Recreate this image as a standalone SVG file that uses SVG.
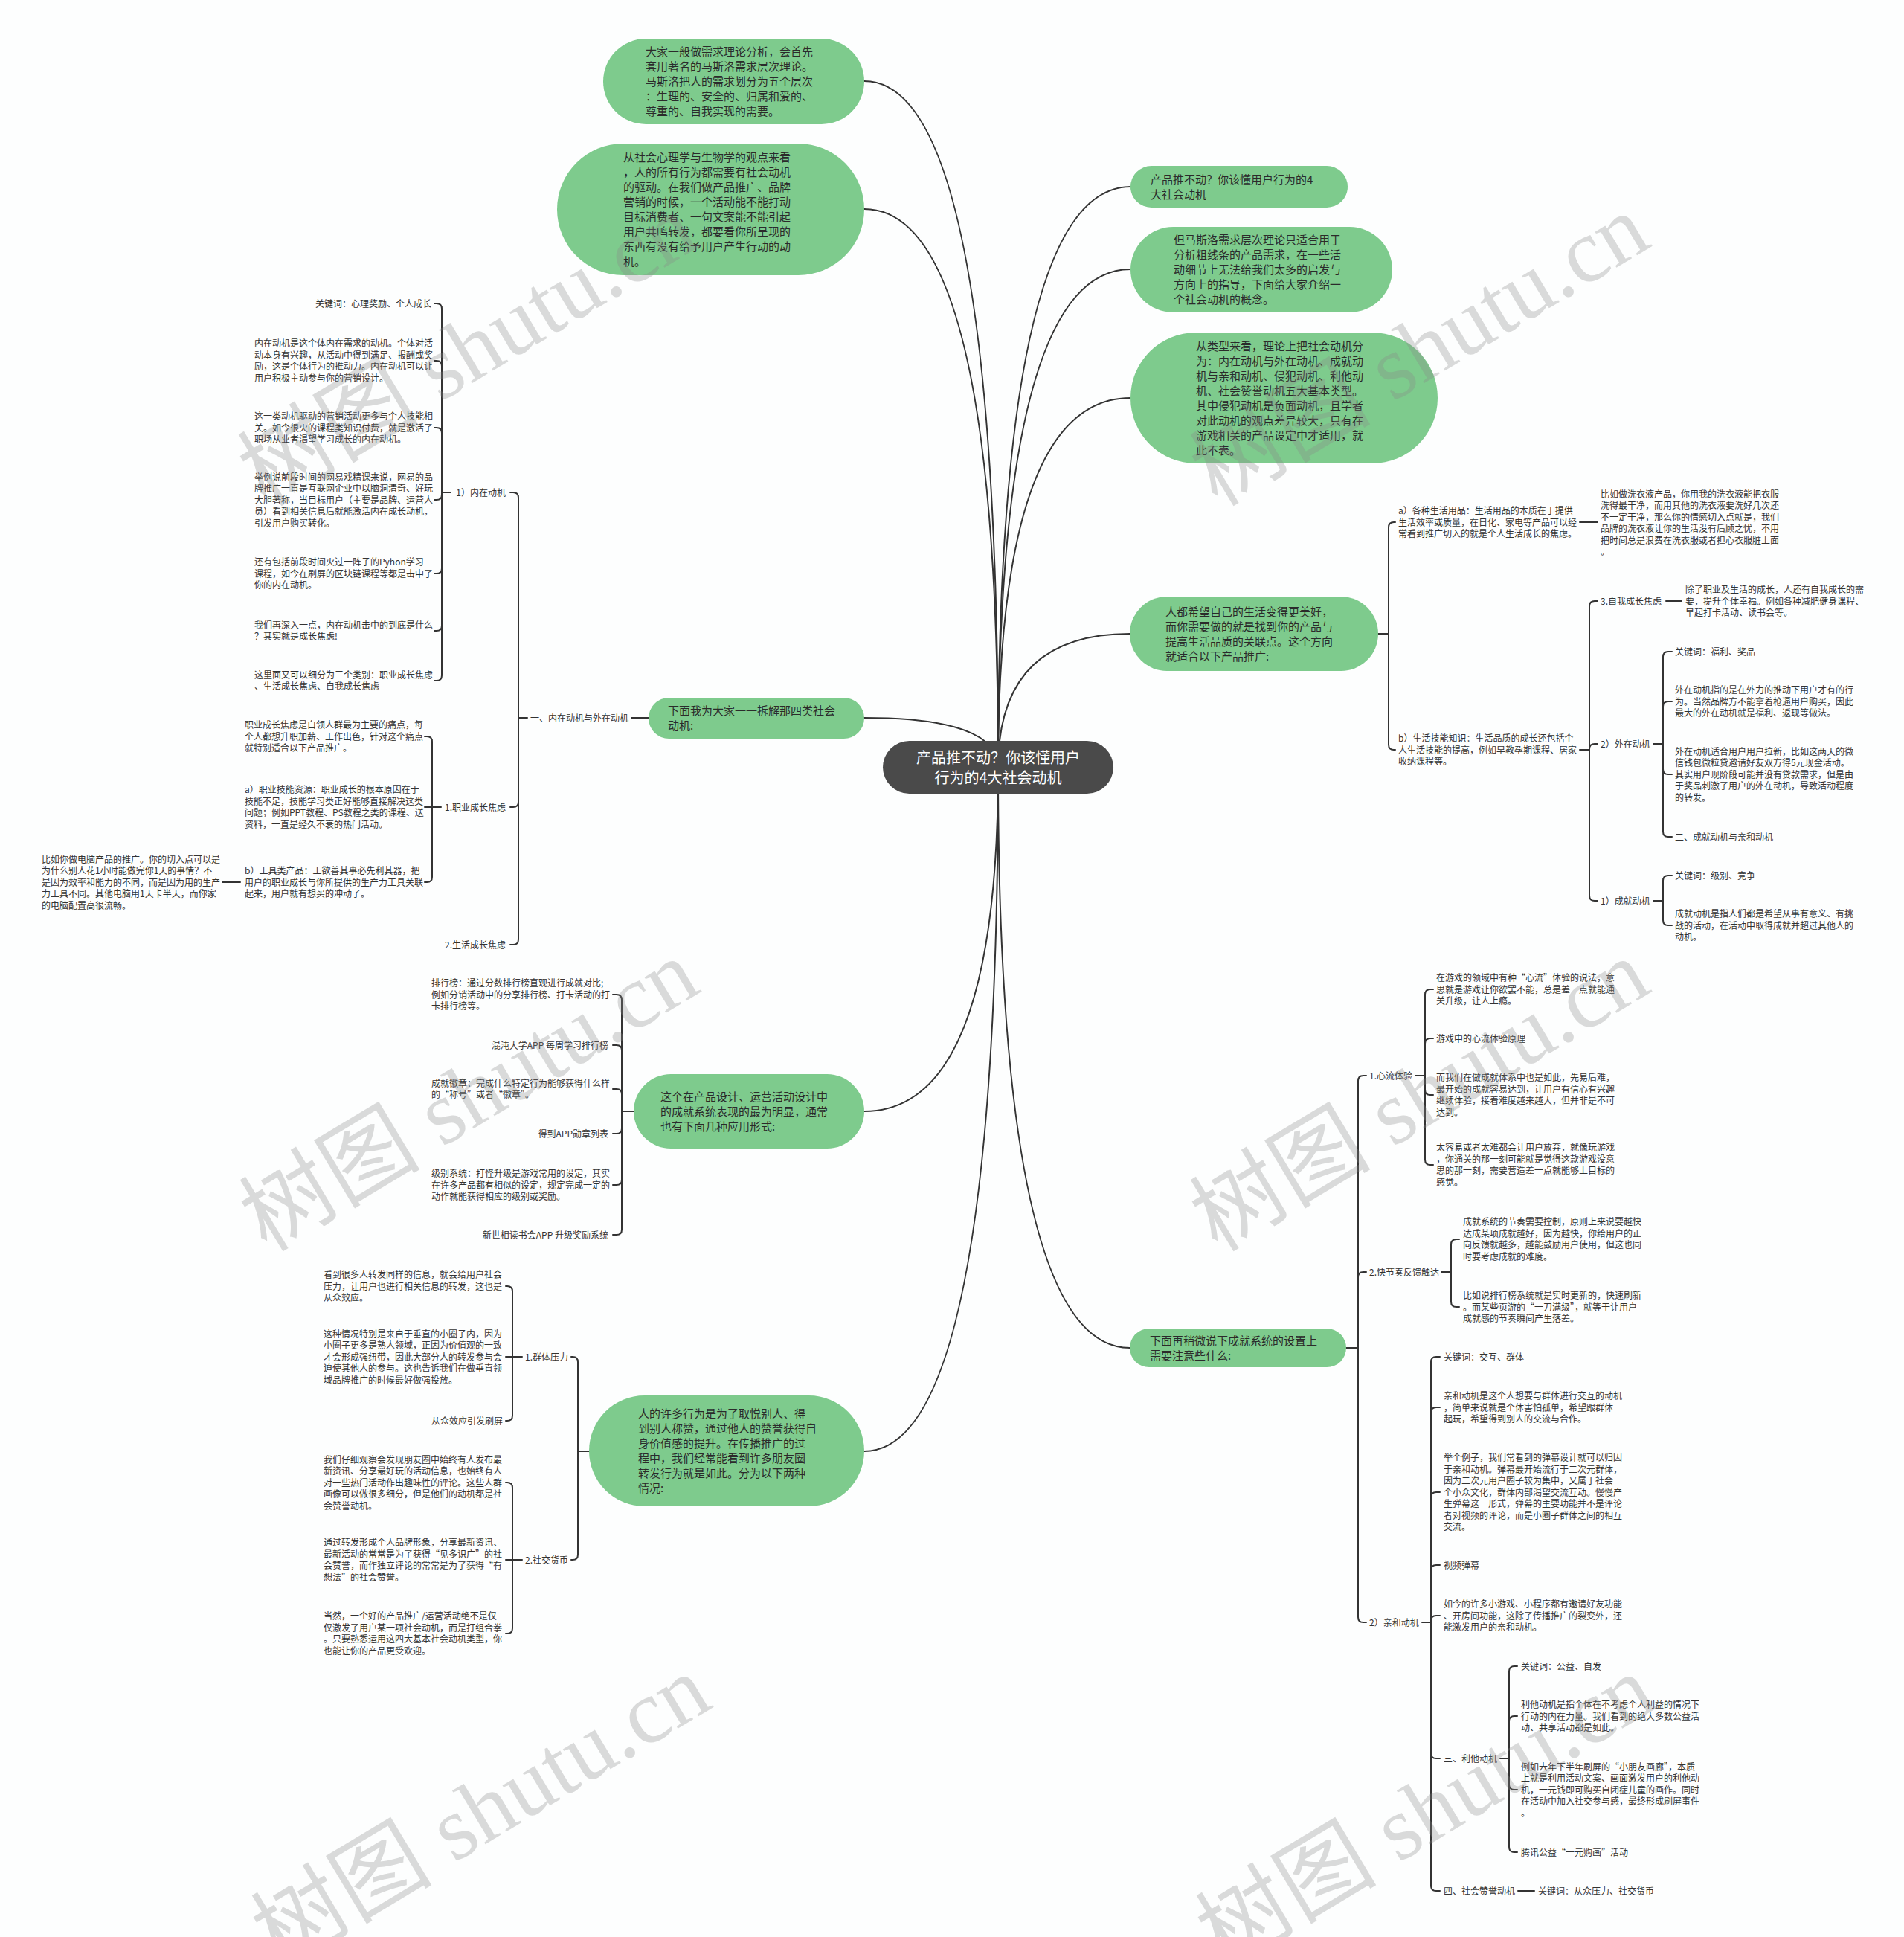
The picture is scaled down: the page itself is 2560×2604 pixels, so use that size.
<svg xmlns="http://www.w3.org/2000/svg" width="2560" height="2604" viewBox="0 0 2560 2604">
<style>
text{font-family:"Noto Sans CJK SC","Noto Sans",sans-serif;}
.t{font-size:12px;fill:#333;}
.e{font-size:12px;fill:#333;text-anchor:end;}
.g{font-size:15px;fill:#2b2b2b;}
.c{font-size:20px;fill:#fff;text-anchor:middle;}
.gn{fill:#7ECB8D;}
.ln{fill:none;stroke:#333;stroke-width:2;stroke-linecap:round;}
.wm{font-family:"Liberation Serif","Noto Sans CJK SC",serif;font-size:122px;fill:#888;opacity:0.3;text-anchor:middle;}
</style>
<rect width="2560" height="2604" fill="#fdfefe"/>
<g id="connectors" class="ln">
<path d="M1342,1032Q1342,109 1162,109"/>
<path d="M1342,1032Q1342,281 1162,281"/>
<path d="M1342,1032Q1342,965 1162,965"/>
<path d="M1342,1032Q1342,1494 1162,1494"/>
<path d="M1342,1032Q1342,1951 1162,1951"/>
<path d="M1342,1032Q1342,251 1520,251"/>
<path d="M1342,1032Q1342,362 1520,362"/>
<path d="M1342,1032Q1342,535 1520,535"/>
<path d="M1342,1032Q1342,852 1519,852"/>
<path d="M1342,1032Q1342,1812 1519,1812"/>
<path d="M849,965H872"/>
<path d="M709,965H697V669Q697,662 690,662H686M709,965H697V1078Q697,1085 690,1085H686M709,965H697V1263Q697,1270 690,1270H686"/>
<path d="M606,662H594V415Q594,408 587,408H584M606,662H594V492Q594,485 587,485H584M606,662H594V582Q594,575 587,575H584M606,662H594V665Q594,672 587,672H584M606,662H594V764Q594,771 587,771H584M606,662H594V841Q594,848 587,848H584M606,662H594V908Q594,915 587,915H584"/>
<path d="M593,1085H581V997Q581,990 574,990H571M593,1085H571M593,1085H581V1179Q581,1186 574,1186H571"/>
<path d="M323,1186H299"/>
<path d="M852,1494H836V1344Q836,1337 829,1337H824M852,1494H836V1412Q836,1405 829,1405H824M852,1494H836V1471Q836,1464 829,1464H824M852,1494H836V1517Q836,1524 829,1524H824M852,1494H836V1586Q836,1593 829,1593H824M852,1494H836V1653Q836,1660 829,1660H824"/>
<path d="M792,1951H777V1831Q777,1824 770,1824H768M792,1951H777V2090Q777,2097 770,2097H768"/>
<path d="M702,1824H689V1736Q689,1729 682,1729H680M702,1824H680M702,1824H689V1903Q689,1910 682,1910H680"/>
<path d="M702,2097H689V2000Q689,1993 682,1993H680M702,2097H680M702,2097H689V2189Q689,2196 682,2196H680"/>
<path d="M1853,852H1867V709Q1867,702 1874,702H1876M1853,852H1867V1001Q1867,1008 1874,1008H1876"/>
<path d="M2124,702H2148"/>
<path d="M2124,1008H2137V815Q2137,808 2144,808H2148M2124,1008H2137V1007Q2137,1000 2144,1000H2148M2124,1008H2137V1204Q2137,1211 2144,1211H2148"/>
<path d="M2240,808H2261"/>
<path d="M2223,1000H2236V883Q2236,876 2243,876H2248M2223,1000H2236V950Q2236,943 2243,943H2248M2223,1000H2236V1034Q2236,1041 2243,1041H2248M2223,1000H2236V1118Q2236,1125 2243,1125H2248"/>
<path d="M2223,1211H2236V1184Q2236,1177 2243,1177H2248M2223,1211H2236V1237Q2236,1244 2243,1244H2248"/>
<path d="M1810,1812H1826V1453Q1826,1446 1833,1446H1837M1810,1812H1826V1717Q1826,1710 1833,1710H1837M1810,1812H1826V2174Q1826,2181 1833,2181H1837"/>
<path d="M1903,1446H1916V1337Q1916,1330 1923,1330H1927M1903,1446H1916V1403Q1916,1396 1923,1396H1927M1903,1446H1916V1465Q1916,1472 1923,1472H1927M1903,1446H1916V1559Q1916,1566 1923,1566H1927"/>
<path d="M1938,1710H1951V1673Q1951,1666 1958,1666H1962M1938,1710H1951V1750Q1951,1757 1958,1757H1962"/>
<path d="M1912,2181H1924V1831Q1924,1824 1931,1824H1936M1912,2181H1924V1899Q1924,1892 1931,1892H1936M1912,2181H1924V2013Q1924,2006 1931,2006H1936M1912,2181H1924V2111Q1924,2104 1931,2104H1936M1912,2181H1924V2179Q1924,2172 1931,2172H1936M1912,2181H1924V2357Q1924,2364 1931,2364H1936M1912,2181H1924V2535Q1924,2542 1931,2542H1936"/>
<path d="M2017,2364H2029V2247Q2029,2240 2036,2240H2040M2017,2364H2029V2314Q2029,2307 2036,2307H2040M2017,2364H2029V2399Q2029,2406 2036,2406H2040M2017,2364H2029V2483Q2029,2490 2036,2490H2040"/>
<path d="M2041,2542H2063"/>
</g>
<g id="center">
<rect x="1187" y="996" width="310" height="71" rx="35.5" fill="#4a4a4a"/>
<text class="c"><tspan x="1342" y="1026">产品推不动？你该懂用户</tspan><tspan x="1342" y="1053">行为的4大社会动机</tspan></text>
</g>
<g id="nodeA">
<rect class="gn" x="811" y="52" width="351" height="115" rx="57.5"/>
<text class="g"><tspan x="868" y="75">大家一般做需求理论分析，会首先</tspan><tspan x="868" y="95">套用著名的马斯洛需求层次理论。</tspan><tspan x="868" y="115">马斯洛把人的需求划分为五个层次</tspan><tspan x="868" y="135">：生理的、安全的、归属和爱的、</tspan><tspan x="868" y="155">尊重的、自我实现的需要。</tspan></text>
</g>
<g id="nodeB">
<rect class="gn" x="749" y="193" width="413" height="177" rx="88.5"/>
<text class="g"><tspan x="838" y="217">从社会心理学与生物学的观点来看</tspan><tspan x="838" y="237">，人的所有行为都需要有社会动机</tspan><tspan x="838" y="257">的驱动。在我们做产品推广、品牌</tspan><tspan x="838" y="277">营销的时候，一个活动能不能打动</tspan><tspan x="838" y="297">目标消费者、一句文案能不能引起</tspan><tspan x="838" y="317">用户共鸣转发，都要看你所呈现的</tspan><tspan x="838" y="337">东西有没有给予用户产生行动的动</tspan><tspan x="838" y="357">机。</tspan></text>
</g>
<g id="nodeC">
<rect class="gn" x="872" y="938" width="290" height="55" rx="27.5"/>
<text class="g"><tspan x="898" y="961">下面我为大家一一拆解那四类社会</tspan><tspan x="898" y="981">动机:</tspan></text>
</g>
<g id="nodeD">
<rect class="gn" x="852" y="1444" width="310" height="100" rx="50"/>
<text class="g"><tspan x="888" y="1479.5">这个在产品设计、运营活动设计中</tspan><tspan x="888" y="1499.5">的成就系统表现的最为明显，通常</tspan><tspan x="888" y="1519.5">也有下面几种应用形式:</tspan></text>
</g>
<g id="nodeE">
<rect class="gn" x="792" y="1876" width="370" height="149" rx="74.5"/>
<text class="g"><tspan x="858" y="1906">人的许多行为是为了取悦别人、得</tspan><tspan x="858" y="1926">到别人称赞，通过他人的赞誉获得自</tspan><tspan x="858" y="1946">身价值感的提升。在传播推广的过</tspan><tspan x="858" y="1966">程中，我们经常能看到许多朋友圈</tspan><tspan x="858" y="1986">转发行为就是如此。分为以下两种</tspan><tspan x="858" y="2006">情况:</tspan></text>
</g>
<g id="nodeF">
<rect class="gn" x="1520" y="223" width="292" height="56" rx="28"/>
<text class="g"><tspan x="1547" y="246.5">产品推不动？你该懂用户行为的4</tspan><tspan x="1547" y="266.5">大社会动机</tspan></text>
</g>
<g id="nodeG">
<rect class="gn" x="1520" y="305" width="352" height="115" rx="57.5"/>
<text class="g"><tspan x="1578" y="328">但马斯洛需求层次理论只适合用于</tspan><tspan x="1578" y="348">分析粗线条的产品需求，在一些活</tspan><tspan x="1578" y="368">动细节上无法给我们太多的启发与</tspan><tspan x="1578" y="388">方向上的指导，下面给大家介绍一</tspan><tspan x="1578" y="408">个社会动机的概念。</tspan></text>
</g>
<g id="nodeH">
<rect class="gn" x="1520" y="447" width="413" height="176" rx="88"/>
<text class="g"><tspan x="1608" y="470.5">从类型来看，理论上把社会动机分</tspan><tspan x="1608" y="490.5">为：内在动机与外在动机、成就动</tspan><tspan x="1608" y="510.5">机与亲和动机、侵犯动机、利他动</tspan><tspan x="1608" y="530.5">机、社会赞誉动机五大基本类型。</tspan><tspan x="1608" y="550.5">其中侵犯动机是负面动机，且学者</tspan><tspan x="1608" y="570.5">对此动机的观点差异较大，只有在</tspan><tspan x="1608" y="590.5">游戏相关的产品设定中才适用，就</tspan><tspan x="1608" y="610.5">此不表。</tspan></text>
</g>
<g id="nodeI">
<rect class="gn" x="1519" y="802" width="334" height="100" rx="50"/>
<text class="g"><tspan x="1567" y="827.5">人都希望自己的生活变得更美好，</tspan><tspan x="1567" y="847.5">而你需要做的就是找到你的产品与</tspan><tspan x="1567" y="867.5">提高生活品质的关联点。这个方向</tspan><tspan x="1567" y="887.5">就适合以下产品推广:</tspan></text>
</g>
<g id="nodeJ">
<rect class="gn" x="1519" y="1786" width="291" height="52" rx="26"/>
<text class="g"><tspan x="1546" y="1807.5">下面再稍微说下成就系统的设置上</tspan><tspan x="1546" y="1827.5">需要注意些什么:</tspan></text>
</g>
<g id="left-motives">
<text class="e" x="845" y="969.5">一、内在动机与外在动机</text>
<text class="e" x="680" y="666.5">1）内在动机</text>
<text class="e" x="680" y="1089.5">1.职业成长焦虑</text>
<text class="e" x="680" y="1274.5">2.生活成长焦虑</text>
<text class="e" x="580" y="412.5">关键词：心理奖励、个人成长</text>
<text class="t"><tspan x="342" y="466.3">内在动机是这个体内在需求的动机。个体对活</tspan><tspan x="342" y="481.8">动本身有兴趣，从活动中得到满足、报酬或奖</tspan><tspan x="342" y="497.3">励，这是个体行为的推动力。内在动机可以让</tspan><tspan x="342" y="512.8">用户积极主动参与你的营销设计。</tspan></text>
<text class="t"><tspan x="342" y="564">这一类动机驱动的营销活动更多与个人技能相</tspan><tspan x="342" y="579.5">关。如今很火的课程类知识付费，就是激活了</tspan><tspan x="342" y="595">职场从业者渴望学习成长的内在动机。</tspan></text>
<text class="t"><tspan x="342" y="645.5">举例说前段时间的网易戏精课来说，网易的品</tspan><tspan x="342" y="661">牌推广一直是互联网企业中以脑洞清奇、好玩</tspan><tspan x="342" y="676.5">大胆著称，当目标用户（主要是品牌、运营人</tspan><tspan x="342" y="692">员）看到相关信息后就能激活内在成长动机，</tspan><tspan x="342" y="707.5">引发用户购买转化。</tspan></text>
<text class="t"><tspan x="342" y="760">还有包括前段时间火过一阵子的Pyhon学习</tspan><tspan x="342" y="775.5">课程，如今在刷屏的区块链课程等都是击中了</tspan><tspan x="342" y="791">你的内在动机。</tspan></text>
<text class="t"><tspan x="342" y="844.8">我们再深入一点，内在动机击中的到底是什么</tspan><tspan x="342" y="860.3">？其实就是成长焦虑!</tspan></text>
<text class="t"><tspan x="342" y="911.8">这里面又可以细分为三个类别：职业成长焦虑</tspan><tspan x="342" y="927.3">、生活成长焦虑、自我成长焦虑</tspan></text>
<text class="t"><tspan x="329" y="979">职业成长焦虑是白领人群最为主要的痛点，每</tspan><tspan x="329" y="994.5">个人都想升职加薪、工作出色，针对这个痛点</tspan><tspan x="329" y="1010">就特别适合以下产品推广。</tspan></text>
<text class="t"><tspan x="329" y="1066.3">a）职业技能资源：职业成长的根本原因在于</tspan><tspan x="329" y="1081.8">技能不足，技能学习类正好能够直接解决这类</tspan><tspan x="329" y="1097.3">问题；例如PPT教程、PS教程之类的课程、送</tspan><tspan x="329" y="1112.8">资料，一直是经久不衰的热门活动。</tspan></text>
<text class="t"><tspan x="329" y="1175">b）工具类产品：工欲善其事必先利其器，把</tspan><tspan x="329" y="1190.5">用户的职业成长与你所提供的生产力工具关联</tspan><tspan x="329" y="1206">起来，用户就有想买的冲动了。</tspan></text>
<text class="t"><tspan x="56" y="1159.5">比如你做电脑产品的推广。你的切入点可以是</tspan><tspan x="56" y="1175">为什么别人花1小时能做完你1天的事情？不</tspan><tspan x="56" y="1190.5">是因为效率和能力的不同，而是因为用的生产</tspan><tspan x="56" y="1206">力工具不同。其他电脑用1天卡半天，而你家</tspan><tspan x="56" y="1221.5">的电脑配置高很流畅。</tspan></text>
</g>
<g id="left-achievement">
<text class="t"><tspan x="580" y="1326">排行榜：通过分数排行榜直观进行成就对比;</tspan><tspan x="580" y="1341.5">例如分销活动中的分享排行榜、打卡活动的打</tspan><tspan x="580" y="1357">卡排行榜等。</tspan></text>
<text class="e" x="818" y="1409.5">混沌大学APP 每周学习排行榜</text>
<text class="t"><tspan x="580" y="1460.8">成就徽章：完成什么特定行为能够获得什么样</tspan><tspan x="580" y="1476.3">的“称号”或者“徽章”。</tspan></text>
<text class="e" x="818" y="1528.5">得到APP勋章列表</text>
<text class="t"><tspan x="580" y="1582">级别系统：打怪升级是游戏常用的设定，其实</tspan><tspan x="580" y="1597.5">在许多产品都有相似的设定，规定完成一定的</tspan><tspan x="580" y="1613">动作就能获得相应的级别或奖励。</tspan></text>
<text class="e" x="818" y="1664.5">新世相读书会APP 升级奖励系统</text>
</g>
<g id="left-social">
<text class="t" x="706" y="1828.5">1.群体压力</text>
<text class="t" x="706" y="2101.5">2.社交货币</text>
<text class="t"><tspan x="435" y="1718">看到很多人转发同样的信息，就会给用户社会</tspan><tspan x="435" y="1733.5">压力，让用户也进行相关信息的转发，这也是</tspan><tspan x="435" y="1749">从众效应。</tspan></text>
<text class="t"><tspan x="435" y="1797.5">这种情况特别是来自于垂直的小圈子内，因为</tspan><tspan x="435" y="1813">小圈子更多是熟人领域，正因为价值观的一致</tspan><tspan x="435" y="1828.5">才会形成强纽带，因此大部分人的转发参与会</tspan><tspan x="435" y="1844">迫使其他人的参与。这也告诉我们在做垂直领</tspan><tspan x="435" y="1859.5">域品牌推广的时候最好做强投放。</tspan></text>
<text class="e" x="676" y="1914.5">从众效应引发刷屏</text>
<text class="t"><tspan x="435" y="1966.5">我们仔细观察会发现朋友圈中始终有人发布最</tspan><tspan x="435" y="1982">新资讯、分享最好玩的活动信息，也始终有人</tspan><tspan x="435" y="1997.5">对一些热门活动作出趣味性的评论。这些人群</tspan><tspan x="435" y="2013">画像可以做很多细分，但是他们的动机都是社</tspan><tspan x="435" y="2028.5">会赞誉动机。</tspan></text>
<text class="t"><tspan x="435" y="2078.3">通过转发形成个人品牌形象，分享最新资讯、</tspan><tspan x="435" y="2093.8">最新活动的常常是为了获得“见多识广”的社</tspan><tspan x="435" y="2109.3">会赞誉，而作独立评论的常常是为了获得“有</tspan><tspan x="435" y="2124.8">想法”的社会赞誉。</tspan></text>
<text class="t"><tspan x="435" y="2177.3">当然，一个好的产品推广/运营活动绝不是仅</tspan><tspan x="435" y="2192.8">仅激发了用户某一项社会动机，而是打组合拳</tspan><tspan x="435" y="2208.3">。只要熟悉运用这四大基本社会动机类型，你</tspan><tspan x="435" y="2223.8">也能让你的产品更受欢迎。</tspan></text>
</g>
<g id="right-life">
<text class="t"><tspan x="1880" y="691">a）各种生活用品：生活用品的本质在于提供</tspan><tspan x="1880" y="706.5">生活效率或质量，在日化、家电等产品可以经</tspan><tspan x="1880" y="722">常看到推广切入的就是个人生活成长的焦虑。</tspan></text>
<text class="t"><tspan x="2152" y="668.8">比如做洗衣液产品，你用我的洗衣液能把衣服</tspan><tspan x="2152" y="684.3">洗得最干净，而用其他的洗衣液要洗好几次还</tspan><tspan x="2152" y="699.8">不一定干净，那么你的情感切入点就是，我们</tspan><tspan x="2152" y="715.3">品牌的洗衣液让你的生活没有后顾之忧，不用</tspan><tspan x="2152" y="730.8">把时间总是浪费在洗衣服或者担心衣服脏上面</tspan><tspan x="2152" y="746.3">。</tspan></text>
<text class="t"><tspan x="1880" y="997">b）生活技能知识：生活品质的成长还包括个</tspan><tspan x="1880" y="1012.5">人生活技能的提高，例如早教孕期课程、居家</tspan><tspan x="1880" y="1028">收纳课程等。</tspan></text>
<text class="t" x="2152" y="812.5">3.自我成长焦虑</text>
<text class="t"><tspan x="2266" y="797">除了职业及生活的成长，人还有自我成长的需</tspan><tspan x="2266" y="812.5">要，提升个体幸福。例如各种减肥健身课程、</tspan><tspan x="2266" y="828">早起打卡活动、读书会等。</tspan></text>
<text class="t" x="2152" y="1004.5">2）外在动机</text>
<text class="t" x="2252" y="880.5">关键词：福利、奖品</text>
<text class="t"><tspan x="2252" y="932">外在动机指的是在外力的推动下用户才有的行</tspan><tspan x="2252" y="947.5">为。当然品牌方不能拿着枪逼用户购买，因此</tspan><tspan x="2252" y="963">最大的外在动机就是福利、返现等做法。</tspan></text>
<text class="t"><tspan x="2252" y="1014.5">外在动机适合用户用户拉新，比如这两天的微</tspan><tspan x="2252" y="1030">信钱包微粒贷邀请好友双方得5元现金活动。</tspan><tspan x="2252" y="1045.5">其实用户现阶段可能并没有贷款需求，但是由</tspan><tspan x="2252" y="1061">于奖品刺激了用户的外在动机，导致活动程度</tspan><tspan x="2252" y="1076.5">的转发。</tspan></text>
<text class="t" x="2252" y="1129.5">二、成就动机与亲和动机</text>
<text class="t" x="2152" y="1215.5">1）成就动机</text>
<text class="t" x="2252" y="1181.5">关键词：级别、竞争</text>
<text class="t"><tspan x="2252" y="1233">成就动机是指人们都是希望从事有意义、有挑</tspan><tspan x="2252" y="1248.5">战的活动，在活动中取得成就并超过其他人的</tspan><tspan x="2252" y="1264">动机。</tspan></text>
</g>
<g id="right-system">
<text class="t" x="1841" y="1450.5">1.心流体验</text>
<text class="t"><tspan x="1931" y="1319">在游戏的领域中有种“心流”体验的说法，意</tspan><tspan x="1931" y="1334.5">思就是游戏让你欲罢不能，总是差一点就能通</tspan><tspan x="1931" y="1350">关升级，让人上瘾。</tspan></text>
<text class="t" x="1931" y="1400.5">游戏中的心流体验原理</text>
<text class="t"><tspan x="1931" y="1453.3">而我们在做成就体系中也是如此，先易后难，</tspan><tspan x="1931" y="1468.8">最开始的成就容易达到，让用户有信心有兴趣</tspan><tspan x="1931" y="1484.3">继续体验，接着难度越来越大，但并非是不可</tspan><tspan x="1931" y="1499.8">达到。</tspan></text>
<text class="t"><tspan x="1931" y="1547.3">太容易或者太难都会让用户放弃，就像玩游戏</tspan><tspan x="1931" y="1562.8">，你通关的那一刻可能就是觉得这款游戏没意</tspan><tspan x="1931" y="1578.3">思的那一刻，需要营造差一点就能够上目标的</tspan><tspan x="1931" y="1593.8">感觉。</tspan></text>
<text class="t" x="1841" y="1714.5">2.快节奏反馈触达</text>
<text class="t"><tspan x="1967" y="1647.3">成就系统的节奏需要控制，原则上来说要越快</tspan><tspan x="1967" y="1662.8">达成某项成就越好，因为越快，你给用户的正</tspan><tspan x="1967" y="1678.3">向反馈就越多，越能鼓励用户使用，但这也同</tspan><tspan x="1967" y="1693.8">时要考虑成就的难度。</tspan></text>
<text class="t"><tspan x="1967" y="1746">比如说排行榜系统就是实时更新的，快速刷新</tspan><tspan x="1967" y="1761.5">。而某些页游的“一刀满级”，就等于让用户</tspan><tspan x="1967" y="1777">成就感的节奏瞬间产生落差。</tspan></text>
<text class="t" x="1841" y="2185.5">2）亲和动机</text>
<text class="t" x="1941" y="1828.5">关键词：交互、群体</text>
<text class="t"><tspan x="1941" y="1881">亲和动机是这个人想要与群体进行交互的动机</tspan><tspan x="1941" y="1896.5">，简单来说就是个体害怕孤单，希望跟群体一</tspan><tspan x="1941" y="1912">起玩，希望得到别人的交流与合作。</tspan></text>
<text class="t"><tspan x="1941" y="1964">举个例子，我们常看到的弹幕设计就可以归因</tspan><tspan x="1941" y="1979.5">于亲和动机。弹幕最开始流行于二次元群体，</tspan><tspan x="1941" y="1995">因为二次元用户圈子较为集中，又属于社会一</tspan><tspan x="1941" y="2010.5">个小众文化，群体内部渴望交流互动。慢慢产</tspan><tspan x="1941" y="2026">生弹幕这一形式，弹幕的主要功能并不是评论</tspan><tspan x="1941" y="2041.5">者对视频的评论，而是小圈子群体之间的相互</tspan><tspan x="1941" y="2057">交流。</tspan></text>
<text class="t" x="1941" y="2108.5">视频弹幕</text>
<text class="t"><tspan x="1941" y="2161">如今的许多小游戏、小程序都有邀请好友功能</tspan><tspan x="1941" y="2176.5">、开房间功能，这除了传播推广的裂变外，还</tspan><tspan x="1941" y="2192">能激发用户的亲和动机。</tspan></text>
<text class="t" x="1941" y="2368.5">三、利他动机</text>
<text class="t" x="2045" y="2244.5">关键词：公益、自发</text>
<text class="t"><tspan x="2045" y="2296">利他动机是指个体在不考虑个人利益的情况下</tspan><tspan x="2045" y="2311.5">行动的内在力量。我们看到的绝大多数公益活</tspan><tspan x="2045" y="2327">动、共享活动都是如此。</tspan></text>
<text class="t"><tspan x="2045" y="2379.5">例如去年下半年刷屏的“小朋友画廊”，本质</tspan><tspan x="2045" y="2395">上就是利用活动文案、画面激发用户的利他动</tspan><tspan x="2045" y="2410.5">机，一元钱即可购买自闭症儿童的画作。同时</tspan><tspan x="2045" y="2426">在活动中加入社交参与感，最终形成刷屏事件</tspan><tspan x="2045" y="2441.5">。</tspan></text>
<text class="t" x="2045" y="2494.5">腾讯公益“一元购画”活动</text>
<text class="t" x="1941" y="2546.5">四、社会赞誉动机</text>
<text class="t" x="2068" y="2546.5">关键词：从众压力、社交货币</text>
</g>
<g id="watermarks">
<text class="wm" transform="translate(650,506) rotate(-31)">树图 shutu.cn</text>
<text class="wm" transform="translate(1930,506) rotate(-31)">树图 shutu.cn</text>
<text class="wm" transform="translate(652,1508) rotate(-31)">树图 shutu.cn</text>
<text class="wm" transform="translate(1930,1508) rotate(-31)">树图 shutu.cn</text>
<text class="wm" transform="translate(668,2470) rotate(-31)">树图 shutu.cn</text>
<text class="wm" transform="translate(1938,2470) rotate(-31)">树图 shutu.cn</text>
</g>
</svg>
